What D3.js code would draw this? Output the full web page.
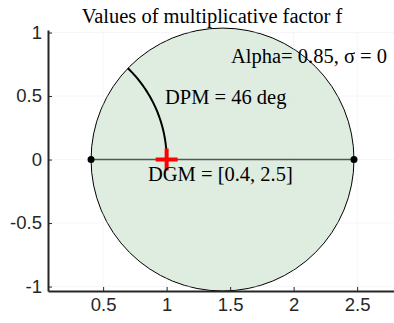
<!DOCTYPE html>
<html>
<head>
<meta charset="utf-8">
<script src="https://cdn.jsdelivr.net/npm/d3@7"></script>
<style>
  body { margin: 0; background: #fff; }
  svg { display: block; }
</style>
</head>
<body>
<svg width="394" height="323"></svg>
<script>
const xTicks = [0.5, 1, 1.5, 2, 2.5];
const yTicks = [-1, -0.5, 0, 0.5, 1];
const dgm = [0.405, 2.475];     // disk of possible gain values (real axis)
const dpmDeg = 46;              // phase margin arc, degrees
const alpha = 0.85;
const sigma = 0;
const critical = [1, 0];

const svg = d3.select('svg');
const width = +svg.attr('width');
const height = +svg.attr('height');

const margin = { top: 30, right: 0, bottom: 32, left: 48 };

const x = d3.scaleLinear().domain([0.066, 2.79]).range([margin.left, width - margin.right]);
const y = d3.scaleLinear().domain([-1.035, 1.02]).range([height - margin.bottom, margin.top]);

// grid
const grid = svg.append('g').attr('stroke', '#e5e5e5').attr('stroke-width', 1);
grid.selectAll('.gx').data(xTicks).enter().append('line')
  .attr('x1', d => x(d)).attr('x2', d => x(d))
  .attr('y1', y.range()[0]).attr('y2', y.range()[1]);
grid.selectAll('.gy').data(yTicks).enter().append('line')
  .attr('x1', x.range()[0]).attr('x2', x.range()[1])
  .attr('y1', d => y(d)).attr('y2', d => y(d));

// disk
const cx = (dgm[0] + dgm[1]) / 2;
const r = (dgm[1] - dgm[0]) / 2;
svg.append('ellipse')
  .attr('cx', x(cx)).attr('cy', y(0))
  .attr('rx', x(cx + r) - x(cx)).attr('ry', y(0) - y(r))
  .attr('fill', 'rgb(220,235,221)').attr('fill-opacity', 0.9)
  .attr('stroke', '#000').attr('stroke-width', 1);

// grid faintly on top of the fill
grid.raise().attr('stroke-opacity', 0.35);

// DGM segment
svg.append('line')
  .attr('x1', x(dgm[0])).attr('x2', x(dgm[1]))
  .attr('y1', y(0)).attr('y2', y(0))
  .attr('stroke', '#555').attr('stroke-width', 1.5);
svg.selectAll('.dot').data(dgm).enter().append('circle')
  .attr('cx', d => x(d)).attr('cy', y(0)).attr('r', 3.5).attr('fill', '#000');

// DPM arc on unit circle
const arcPts = d3.range(0, dpmDeg + 0.5, 1).map(a => [Math.cos(a * Math.PI / 180), Math.sin(a * Math.PI / 180)]);
svg.append('path')
  .datum(arcPts)
  .attr('fill', 'none').attr('stroke', '#000').attr('stroke-width', 2)
  .attr('d', d3.line().x(d => x(d[0])).y(d => y(d[1])));

// critical point marker
const px = x(critical[0]), py = y(critical[1]);
svg.append('path')
  .attr('d', `M${px - 11},${py}H${px + 11}M${px},${py - 11}V${py + 11}`)
  .attr('stroke', '#ff0000').attr('stroke-width', 4).attr('fill', 'none');

// axes
const xAxis = svg.append('g')
  .attr('transform', `translate(0,${y.range()[0]})`)
  .call(d3.axisBottom(x).tickValues(xTicks).tickSizeInner(-4).tickSizeOuter(0).tickPadding(7).tickFormat(d3.format('')));
const yAxis = svg.append('g')
  .attr('transform', `translate(${x.range()[0]},0)`)
  .call(d3.axisLeft(y).tickValues(yTicks).tickSizeInner(-4).tickSizeOuter(0).tickPadding(6).tickFormat(d3.format('')));
[xAxis, yAxis].forEach(a => {
  a.select('.domain').attr('stroke', '#262626').attr('stroke-width', 2);
  a.selectAll('.tick line').attr('stroke', '#262626').attr('stroke-width', 1);
  a.selectAll('.tick text').attr('fill', '#262626')
    .style('font-family', '"Liberation Sans", Arial, sans-serif').style('font-size', '18.5px');
});
yAxis.selectAll('.tick text').text(d => d < 0 ? '-' + Math.abs(d) : d);

// texts
const serif = '"Liberation Serif", "Times New Roman", serif';
const fs = '20.5px';
svg.append('text').attr('x', 212).attr('y', 23).attr('text-anchor', 'middle')
  .style('font-family', serif).style('font-size', fs).text('Values of multiplicative factor f');
svg.append('text').attr('x', 231).attr('y', 63)
  .style('font-family', serif).style('font-size', fs).text(`Alpha= ${alpha}, σ = ${sigma}`);
svg.append('text').attr('x', 165).attr('y', 104)
  .style('font-family', serif).style('font-size', fs).text(`DPM = ${dpmDeg} deg`);
svg.append('text').attr('x', 148).attr('y', 181)
  .style('font-family', serif).style('font-size', fs).text(`DGM = [${d3.format('.1f')(dgm[0])}, ${d3.format('.1f')(dgm[1])}]`);
</script>
</body>
</html>
